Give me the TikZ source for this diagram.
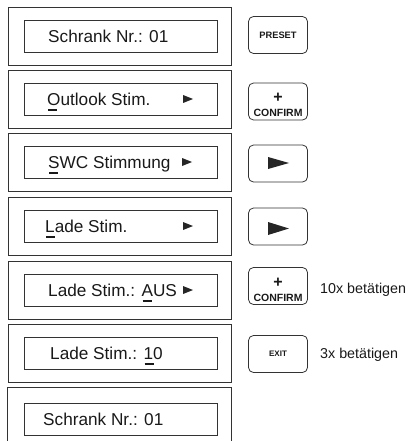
\documentclass[tikz,border=0pt]{standalone}
\usepackage{fontspec}
\setmainfont{Liberation Sans}
\newcommand\curs[1]{\rlap{\hspace{1pt}\rule[-5.5pt]{9pt}{2pt}}#1}
\begin{document}
\begin{tikzpicture}[x=1pt,y=-1pt,
  outerbox/.style={draw=black!80, line width=0.9pt, minimum width=223pt, minimum height=58pt, inner sep=0pt},
  innerbox/.style={draw=black!80, line width=0.8pt, minimum width=193pt, minimum height=32pt, inner sep=0pt},
  btn/.style={draw=black!80, line width=0.8pt, rounded corners=5pt, minimum width=59pt, minimum height=37pt, inner sep=0pt},
  disp/.style={inner sep=0pt, anchor=base west, text=black!90, font=\fontsize{17.2}{17.2}\selectfont},
  keylbl/.style={inner sep=0pt, text=black!90},
  note/.style={inner sep=0pt, anchor=base west, text=black!90, font=\fontsize{14.3}{14.3}\selectfont},
  tri/.style={fill=black!85}]
\useasboundingbox (0,0) rectangle (415,441);

% outer boxes
\node[outerbox] (o1) at (119.5,36) {};
\node[outerbox] (o2) at (119.5,99) {};
\node[outerbox] (o3) at (119.5,162) {};
\node[outerbox] (o4) at (119.5,226) {};
\node[outerbox] (o5) at (119.5,290) {};
\node[outerbox] (o6) at (119.5,353) {};
\node[outerbox, draw=none, minimum height=53pt] (o7) at (119.5,414.5) {};
\draw[black!80, line width=0.9pt] (o7.south west) -- (o7.north west) -- (o7.north east) -- (o7.south east);

% inner display boxes
\node[innerbox] (i1) at (121,36) {};
\node[innerbox] (i2) at (121,99) {};
\node[innerbox] (i3) at (121,162) {};
\node[innerbox] (i4) at (121,226) {};
\node[innerbox] (i5) at (121,290) {};
\node[innerbox] (i6) at (121,353) {};
\node[innerbox] (i7) at (121,419) {};

% display texts
\node[disp] (t1) at (48,42.2) {Schrank Nr.: 01};
\node[disp] (t2) at (47,105.2) {\curs{O}utlook Stim.};
\node[disp] (t3) at (48,168.2) {\curs{S}WC Stimmung};
\node[disp] (t4) at (45,232.2) {\curs{L}ade Stim.};
\node[disp] (t5) at (48,296.2) {Lade Stim.: \curs{A}US};
\node[disp] (t6) at (50,359.2) {Lade Stim.: \curs{1}0};
\node[disp] (t7) at (43,425.2) {Schrank Nr.: 01};

% small arrows in displays
\fill[tri] (183,95) -- (193,99) -- (183,103) -- cycle;
\fill[tri] (182,158) -- (192,162) -- (182,166) -- cycle;
\fill[tri] (183,222) -- (193,226) -- (183,230) -- cycle;
\fill[tri] (183,286) -- (193,290) -- (183,294) -- cycle;

% buttons
\node[btn] (b1) at (278,35) {};
\node[keylbl, font=\bfseries\fontsize{9.3}{9.3}\selectfont] (k1) at (b1.center) {PRESET};
\node[btn] (b2) at (278,101.5) {};
\node[keylbl, font=\bfseries\fontsize{16}{16}\selectfont] (p2) at (278,97.5) {+};
\node[keylbl, font=\bfseries\fontsize{10.5}{10.5}\selectfont, anchor=base] (k2) at (278,116) {CONFIRM};
\node[btn] (b3) at (278,163.5) {};
\fill[tri] (268,157) -- (289,163) -- (268,169) -- cycle;
\node[btn] (b4) at (278,226.5) {};
\fill[tri] (268,222) -- (289,228.5) -- (268,235) -- cycle;
\node[btn] (b5) at (278,286) {};
\node[keylbl, font=\bfseries\fontsize{16}{16}\selectfont] (p5) at (278,282.5) {+};
\node[keylbl, font=\bfseries\fontsize{10.5}{10.5}\selectfont, anchor=base] (k5) at (278,301) {CONFIRM};
\node[btn] (b6) at (278,354) {};
\node[keylbl, font=\bfseries\fontsize{8}{8}\selectfont] (k6) at (b6.center) {EXIT};

% notes
\node[note] (n5) at (320,293) {10x betätigen};
\node[note] (n6) at (320,358) {3x betätigen};
\end{tikzpicture}
\end{document}
